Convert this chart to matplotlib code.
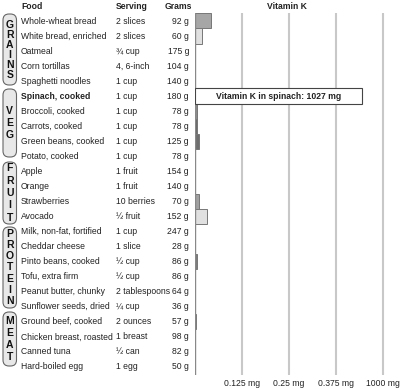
import matplotlib
matplotlib.use("Agg")
import matplotlib.pyplot as plt
from matplotlib.patches import Rectangle, FancyBboxPatch

plt.rcParams['font.family'] = ['Liberation Sans', 'DejaVu Sans']

foods = ["Whole-wheat bread", "White bread, enriched", "Oatmeal", "Corn tortillas",
         "Spaghetti noodles", "Spinach, cooked", "Broccoli, cooked", "Carrots, cooked",
         "Green beans, cooked", "Potato, cooked", "Apple", "Orange", "Strawberries",
         "Avocado", "Milk, non-fat, fortified", "Cheddar cheese", "Pinto beans, cooked",
         "Tofu, extra firm", "Peanut butter, chunky", "Sunflower seeds, dried",
         "Ground beef, cooked", "Chicken breast, roasted", "Canned tuna", "Hard-boiled egg"]
servings = ["2 slices", "2 slices", "¾ cup", "4, 6-inch", "1 cup", "1 cup", "1 cup", "1 cup",
            "1 cup", "1 cup", "1 fruit", "1 fruit", "10 berries", "½ fruit", "1 cup", "1 slice",
            "½ cup", "½ cup", "2 tablespoons", "¼ cup", "2 ounces", "1 breast", "½ can", "1 egg"]
grams = [92, 60, 175, 104, 140, 180, 78, 78, 125, 78, 154, 140, 70, 152, 247, 28,
         86, 86, 64, 36, 57, 98, 82, 50]
# Vitamin K (mg); spinach is off-scale
vitk = [0.043, 0.019, 0.0, 0.0, 0.0, 1.027, 0.005, 0.005, 0.011, 0.0, 0.0, 0.0, 0.011,
        0.032, 0.0, 0.0, 0.005, 0.0, 0.0, 0.0, 0.003, 0.0, 0.0, 0.001]
fills = ["#a6a6a6", "#e0e0e0", "#a6a6a6", "#a6a6a6", "#a6a6a6", "#ffffff", "#8c8c8c",
         "#666666", "#6e6e6e", "#a6a6a6", "#a6a6a6", "#a6a6a6", "#a0a0a0", "#e0e0e0",
         "#a6a6a6", "#a6a6a6", "#7a7a7a", "#a6a6a6", "#a6a6a6", "#a6a6a6", "#b0b0b0",
         "#a6a6a6", "#a6a6a6", "#888888"]
groups = ["GRAINS", "VEG", "FRUIT", "PROTEIN", "MEAT"]
tick_vals = [0.125, 0.25, 0.375, 0.5]
tick_labels = ["0.125 mg", "0.25 mg", "0.375 mg", "1000 mg"]
highlight = "Spinach, cooked"

W, H = 400, 389
fig = plt.figure(figsize=(4, 3.89), dpi=100)

# overlay axes in pixel coordinates for the table and group boxes
ov = fig.add_axes([0, 0, 1, 1])
ov.set_xlim(0, W)
ov.set_ylim(H, 0)
ov.axis("off")

FS = 6.2
TC = "#222222"

# chart axes
ax_l, ax_r, ax_t, ax_b = 195, 392, 13, 375
ax = fig.add_axes([ax_l / W, 1 - ax_b / H, (ax_r - ax_l) / W, (ax_b - ax_t) / H])
px_per_unit = 47 / 0.125
ax.set_xlim(0, (ax_r - ax_l) / px_per_unit)
n = len(foods)
ax.set_ylim(n - 1 + 0.53, -0.53)
for s in ax.spines.values():
    s.set_visible(False)
ax.set_yticks([])
ax.set_xticks([])
ax.patch.set_alpha(0)
for tv in tick_vals:
    ax.axvline(tv, color="#c8c8c8", lw=1.5, zorder=0)
ax.axvline(0, color="#888888", lw=1.0, zorder=3)

for i, (v, c) in enumerate(zip(vitk, fills)):
    if foods[i] == highlight:
        continue
    if v > 0:
        ax.barh(i, v, height=1.0, color=c, edgecolor="#777777", linewidth=0.7, zorder=2)

# spinach label box
si = foods.index(highlight)
box_w = (362 - ax_l) / px_per_unit
ax.add_patch(Rectangle((0, si - 0.53), box_w, 1.06,
                       facecolor="white", edgecolor="#444444", linewidth=0.8, zorder=4))
ax.text(box_w / 2, si, f"Vitamin K in spinach: {round(vitk[si] * 1000)} mg",
        ha="center", va="center", fontsize=FS, fontweight="bold", color=TC, zorder=5)

for tv, tl in zip(tick_vals, tick_labels):
    ov.text(ax_l + tv * px_per_unit, 384, tl, ha="center", va="center", fontsize=FS, color=TC)

ov.text(287, 6, "Vitamin K", ha="center", va="center", fontsize=FS, fontweight="bold", color=TC)

# table
ov.text(21, 6, "Food", ha="left", va="center", fontsize=FS, fontweight="bold", color=TC)
ov.text(116, 6, "Serving", ha="left", va="center", fontsize=FS, fontweight="bold", color=TC)
ov.text(192, 6, "Grams", ha="right", va="center", fontsize=FS, fontweight="bold", color=TC)
row0, dy = 21, 15.04
for i in range(n):
    y = row0 + dy * i
    fw = "bold" if foods[i] == highlight else "normal"
    ov.text(21, y, foods[i], ha="left", va="center", fontsize=FS, fontweight=fw, color=TC)
    ov.text(116, y, servings[i], ha="left", va="center", fontsize=FS, color=TC)
    ov.text(189, y, f"{grams[i]} g", ha="right", va="center", fontsize=FS, color=TC)

# group boxes
boxes = [(14, 85), (89, 157), (162, 224), (227, 308), (312, 366)]
steps = [10, 12, 12.3, 11.2, 12.3]
for g, (top, bot), step in zip(groups, boxes, steps):
    p = FancyBboxPatch((3, top), 13.5, bot - top,
                       boxstyle="round,pad=0,rounding_size=6",
                       facecolor="#e8e8e8", edgecolor="#666666", linewidth=0.8)
    ov.add_patch(p)
    k = len(g)
    mid = (top + bot) / 2
    for j, ch in enumerate(g):
        ov.text(9.75, mid + (j - (k - 1) / 2) * step, ch, ha="center", va="center",
                fontsize=7.5, fontweight="bold", color="#111111")

fig.savefig("out.png", dpi=100)
